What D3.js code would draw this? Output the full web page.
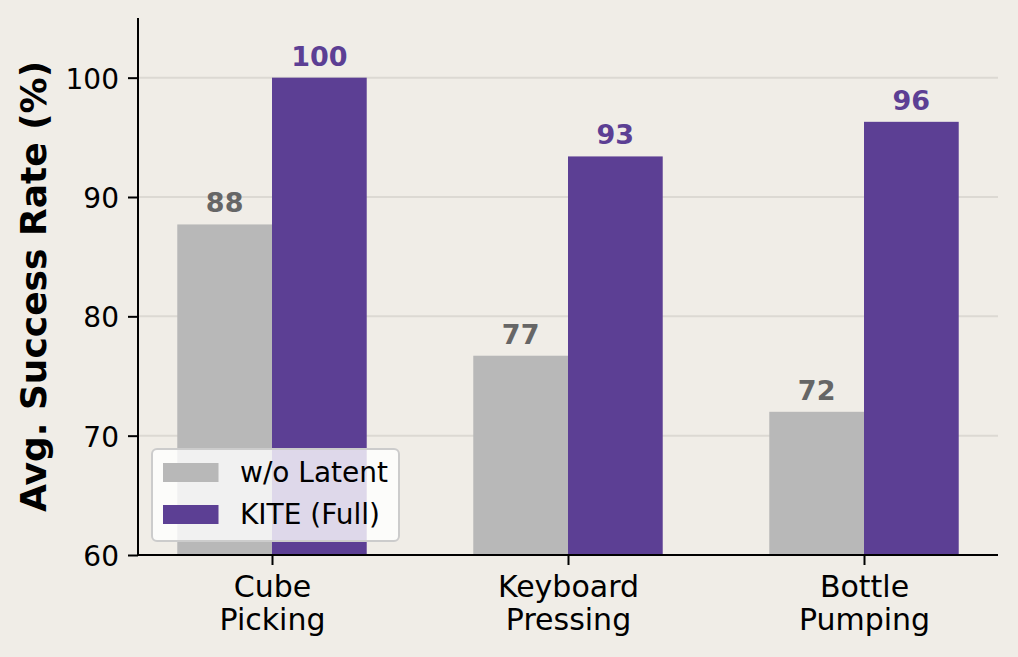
<!DOCTYPE html>
<html>
<head>
<meta charset="utf-8">
<script src="https://cdn.jsdelivr.net/npm/d3@7"></script>
<style>
  body { margin: 0; background: #f0ede7; }
  text { font-family: "DejaVu Sans", sans-serif; }
</style>
</head>
<body>
<div id="bar-chart"></div>
<script>
// data
const tasks = ["Cube\nPicking", "Keyboard\nPressing", "Bottle\nPumping"];
const seriesNames = ["w/o Latent", "KITE (Full)"];
const withoutLatent = [87.7, 76.7, 72.0];
const kiteFull = [100, 93.4, 96.3];
const yTicks = [60, 70, 80, 90, 100];

const drawBarChart = () => {
    const width = 1018;
    const height = 657;
    const margin = {top: 18, right: 20, bottom: 102, left: 138};
    const innerWidth = width - margin.left - margin.right;
    const innerHeight = height - margin.top - margin.bottom;

    const grau = "#b8b8b8";
    const lila = "#5c3f94";
    const labelGrau = "#666666";

    const svg = d3.select("#bar-chart")
        .append("svg")
        .attr("width", width)
        .attr("height", height)
        .attr("viewBox", `0, 0, ${width}, ${height}`);

    svg.append("rect")
        .attr("width", width)
        .attr("height", height)
        .attr("fill", "#f0ede7");

    const innerChart = svg
        .append("g")
        .attr("transform", `translate(${margin.left}, ${margin.top})`);

    // x: category index, bars are 0.32 wide, matplotlib-like 5% margins
    const barWidth = 0.32;
    const xScale = d3.scaleLinear()
        .domain([-0.4527, 2.4527])
        .range([0, innerWidth]);

    const yScale = d3.scaleLinear()
        .domain([60, 105])
        .range([innerHeight, 0]);

    // grid lines
    innerChart.append("g")
        .selectAll("line")
        .data(yTicks.slice(1))
        .join("line")
        .attr("x1", 0)
        .attr("x2", innerWidth)
        .attr("y1", d => yScale(d))
        .attr("y2", d => yScale(d))
        .attr("stroke", "#dcd9d3")
        .attr("stroke-width", 2);

    const series = [
        {name: seriesNames[0], values: withoutLatent, color: grau, text: labelGrau, offset: -barWidth / 2},
        {name: seriesNames[1], values: kiteFull, color: lila, text: lila, offset: barWidth / 2}
    ];

    series.forEach(s => {
        const rows = s.values.map((v, i) => ({i, v}));
        innerChart.append("g")
            .selectAll("rect")
            .data(rows)
            .join("rect")
            .attr("x", d => xScale(d.i + s.offset - barWidth / 2))
            .attr("width", xScale(barWidth) - xScale(0))
            .attr("y", d => yScale(d.v))
            .attr("height", d => innerHeight - yScale(d.v))
            .attr("fill", s.color);

        innerChart.append("g")
            .selectAll("text")
            .data(rows)
            .join("text")
            .attr("x", d => xScale(d.i + s.offset))
            .attr("y", d => yScale(d.v) - 12)
            .attr("text-anchor", "middle")
            .attr("font-size", 27)
            .attr("font-weight", "bold")
            .attr("fill", s.text)
            .text(d => d3.format(".0f")(d.v));
    });

    // y axis
    const leftAxis = d3.axisLeft(yScale)
        .tickValues(yTicks)
        .tickSize(10)
        .tickPadding(9);
    const yAxis = innerChart.append("g")
        .attr("class", "axis-y")
        .call(leftAxis);
    yAxis.select(".domain").attr("d", `M0,0V${innerHeight}`);

    // x axis
    const bottomAxis = d3.axisBottom(xScale)
        .tickValues([0, 1, 2])
        .tickSize(10)
        .tickFormat("");
    const xAxis = innerChart.append("g")
        .attr("class", "axis-x")
        .attr("transform", `translate(0, ${innerHeight})`)
        .call(bottomAxis);
    xAxis.select(".domain").attr("d", `M0,0H${innerWidth}`);

    [yAxis, xAxis].forEach(ax => {
        ax.select(".domain").attr("stroke", "black").attr("stroke-width", 2);
        ax.selectAll(".tick line").attr("stroke", "black").attr("stroke-width", 2);
    });
    yAxis.selectAll(".tick text")
        .attr("font-size", 28)
        .attr("font-family", "DejaVu Sans")
        .attr("fill", "black")
        .attr("dy", "0.38em");

    // two-line category labels
    xAxis.selectAll(".tick")
        .append("text")
        .attr("text-anchor", "middle")
        .attr("font-size", 30)
        .attr("fill", "black")
        .selectAll("tspan")
        .data(d => tasks[d].split("\n"))
        .join("tspan")
        .attr("x", 0)
        .attr("y", (d, i) => 42 + i * 33.3)
        .text(d => d);

    // y label
    svg.append("text")
        .attr("transform", `translate(46, ${margin.top + innerHeight / 2}) rotate(-90)`)
        .attr("text-anchor", "middle")
        .attr("font-size", 36)
        .attr("font-weight", "bold")
        .attr("fill", "black")
        .text("Avg. Success Rate (%)");

    // legend
    const legend = svg.append("g")
        .attr("transform", "translate(152, 449)");
    legend.append("rect")
        .attr("width", 247)
        .attr("height", 92)
        .attr("rx", 5)
        .attr("fill", "white")
        .attr("fill-opacity", 0.8)
        .attr("stroke", "#cccccc")
        .attr("stroke-width", 2);
    const items = legend.selectAll("g.item")
        .data(series)
        .join("g")
        .attr("class", "item")
        .attr("transform", (d, i) => `translate(0, ${i * 42})`);
    items.append("rect")
        .attr("x", 11)
        .attr("y", 14)
        .attr("width", 55.5)
        .attr("height", 19)
        .attr("fill", d => d.color);
    items.append("text")
        .attr("x", 88)
        .attr("y", 33)
        .attr("font-size", 28)
        .attr("fill", "black")
        .text(d => d.name);
};

drawBarChart();
</script>
</body>
</html>
